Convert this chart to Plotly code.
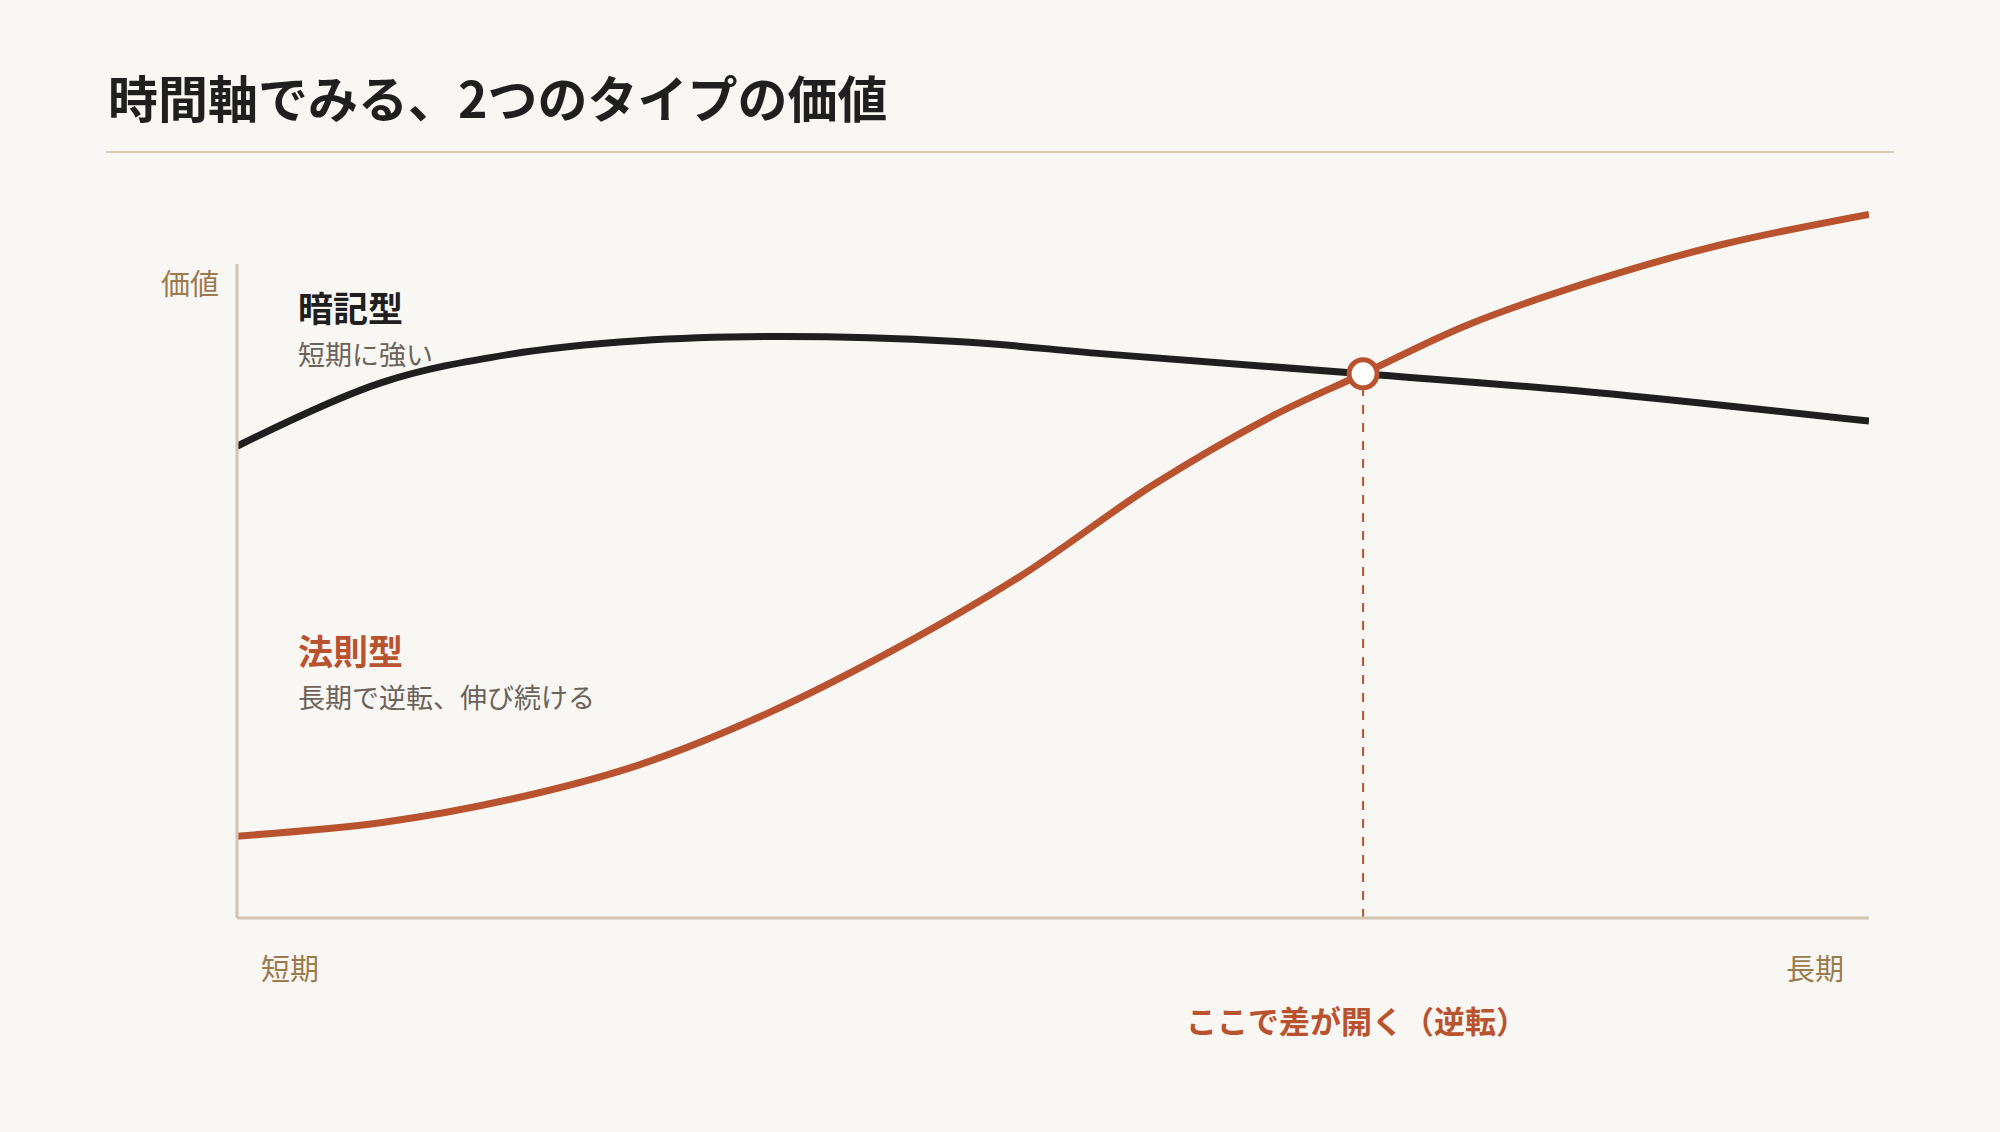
import plotly.graph_objects as go

x_black = [0, 8.9, 16.7, 24.6, 33.5, 44.1, 53.5, 69.0, 83.2, 100]
y_black = [65.7, 74.6, 78.5, 80.4, 81.0, 80.3, 78.5, 75.8, 73.2, 69.2]
x_orange = [0, 8.9, 16.7, 24.6, 32.4, 40.2, 48.0, 56.2, 63.6, 69.0, 75.4, 83.2, 91.0, 100]
y_orange = [11.4, 13.3, 16.5, 21.3, 28.4, 37.3, 47.6, 60.4, 70.1, 75.8, 82.6, 88.8, 93.8, 98.0]
cross_x, cross_y = [69.0], [75.8]

ORANGE = "#b9532f"
BLACK = "#1f1f1f"
BROWN = "#9b7a4e"
GRAY = "#6b625a"
FONT = "Noto Sans CJK JP"

L, R, T, B = 237, 1869, 200, 918
def px(X): return (X - L) / (R - L)
def py(Y): return (B - Y) / (B - T)

fig = go.Figure()
fig.add_trace(go.Scatter(x=x_black, y=y_black, mode="lines",
                         line=dict(color=BLACK, width=7, shape="spline"), hoverinfo="skip"))
fig.add_trace(go.Scatter(x=x_orange, y=y_orange, mode="lines",
                         line=dict(color=ORANGE, width=7, shape="spline"), hoverinfo="skip"))
fig.add_trace(go.Scatter(x=[cross_x[0], cross_x[0]], y=[0, cross_y[0]], mode="lines",
                         line=dict(color=ORANGE, width=2, dash="dash"), hoverinfo="skip"))
fig.add_trace(go.Scatter(x=cross_x, y=cross_y, mode="markers",
                         marker=dict(size=28, color="white", line=dict(color=ORANGE, width=5)),
                         hoverinfo="skip"))

shapes = [
    dict(type="line", xref="paper", yref="paper", x0=px(106), x1=px(1894), y0=py(152), y1=py(152),
         line=dict(color="#d8cbb8", width=2)),
    dict(type="line", xref="paper", yref="paper", x0=0, x1=0, y0=0, y1=py(264),
         line=dict(color="#d2c4b0", width=3)),
    dict(type="line", xref="paper", yref="paper", x0=0, x1=1, y0=0, y1=0,
         line=dict(color="#d2c4b0", width=3)),
]

def ann(text, X, Y, size, color, xanchor="left", bold=False):
    return dict(text=f"<b>{text}</b>" if bold else text, xref="paper", yref="paper",
                x=px(X), y=py(Y), xanchor=xanchor, yanchor="middle", showarrow=False,
                font=dict(size=size, color=color, family=FONT))

annotations = [
    ann("時間軸でみる、2つのタイプの価値", 106, 96, 50, BLACK, bold=True),
    ann("価値", 221, 282, 29, BROWN, xanchor="right"),
    ann("暗記型", 296, 306, 35, BLACK, bold=True),
    ann("短期に強い", 296, 353, 27, GRAY),
    ann("法則型", 296, 649, 35, ORANGE, bold=True),
    ann("長期で逆転、伸び続ける", 296, 696, 27, GRAY),
    ann("短期", 259, 967, 29, BROWN),
    ann("長期", 1846, 967, 29, BROWN, xanchor="right"),
    ann("ここで差が開く（逆転）", 1356, 1019, 31, ORANGE, xanchor="center", bold=True),
]

fig.update_layout(
    width=2000, height=1132, margin=dict(l=L, r=2000 - R, t=T, b=1132 - B),
    paper_bgcolor="#f9f7f3", plot_bgcolor="#f9f7f3", showlegend=False,
    xaxis=dict(range=[0, 100], visible=False, fixedrange=True),
    yaxis=dict(range=[0, 100], visible=False, fixedrange=True),
    shapes=shapes, annotations=annotations, font=dict(family=FONT),
)
fig.write_html("out.html", config={"displayModeBar": False})
with open("out.html", encoding="utf-8") as f:
    html = f.read()
html = html.replace("<body>", '<body style="margin:0;background:#f9f7f3">', 1)
with open("out.html", "w", encoding="utf-8") as f:
    f.write(html)
